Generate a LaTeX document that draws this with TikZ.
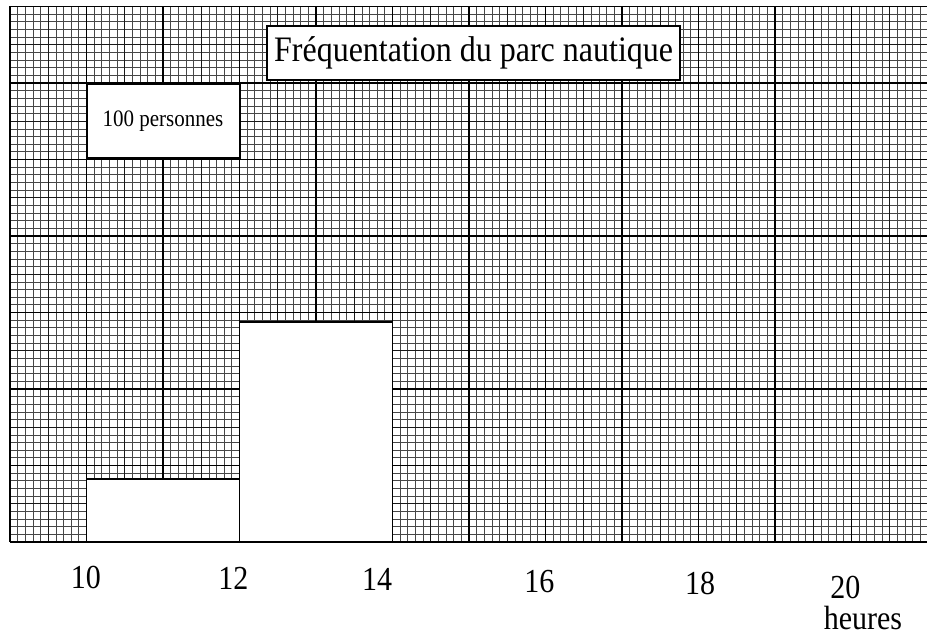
\documentclass[tikz,border=0pt]{standalone}
\usepackage{fontspec}
\setmainfont{Liberation Serif}

\newcommand{\tallText}[1]{\scalebox{1}[1.12]{#1}}

\tikzset{
    minorline/.style={black!72, line width=0.75pt},
    mediumline/.style={black!90, line width=1.2pt},
    majorline/.style={black, line width=1.9pt},
    axisline/.style={black, line width=2.8pt},
    whitebar/.style={draw=black, fill=white, line width=1.9pt},
    titlebox/.style={draw=black, fill=white, line width=1.7pt, inner sep=0pt,
        minimum width=413pt, minimum height=54pt, font=\fontsize{32}{36}\selectfont},
    legendbox/.style={draw=black, fill=white, line width=2pt, inner sep=0pt,
        minimum width=153pt, minimum height=74pt, font=\fontsize{21}{24}\selectfont},
    hourlabel/.style={inner sep=0pt, font=\fontsize{30}{34}\selectfont}
}

\begin{document}
\begin{tikzpicture}[x=76.5pt, y=76.5pt]
        \useasboundingbox (-0.131,-1.268) rectangle (11.987,7.085);
        \clip (-0.131,-1.268) rectangle (11.987,7.085);

        % papier millimetre
        \foreach \i in {0,...,120} {
            \draw[minorline] (\i/10,0) -- (\i/10,7);
        }
        \foreach \j in {0,...,70} {
            \draw[minorline] (0,\j/10) -- (12,\j/10);
        }
        \foreach \i in {0,...,24} {
            \draw[mediumline] (\i/2,0) -- (\i/2,7);
        }
        \foreach \j in {0,...,14} {
            \draw[mediumline] (0,\j/2) -- (12,\j/2);
        }
        \foreach \i in {0,...,12} {
            \draw[majorline] (\i,0) -- (\i,7);
        }
        \foreach \j in {0,...,7} {
            \draw[majorline] (0,\j) -- (12,\j);
        }

        % histogramme
        \draw[whitebar] (1,0) rectangle (3,0.82);
        \draw[whitebar] (3,0) rectangle (5,2.87);
        \draw[axisline] (0,0) -- (12,0);
        \draw[majorline] (0,0) -- (0,7);

        \node[titlebox] (title) at (6.06,6.395) {\tallText{Fréquentation du parc nautique}};
        \node[legendbox] (legend) at (2,5.5) {\tallText{100 personnes}\hspace{14pt}};

        \node[hourlabel] (h10) at (0.99,-0.46) {\tallText{10}};
        \node[hourlabel] (h12) at (2.92,-0.47) {\tallText{12}};
        \node[hourlabel] (h14) at (4.80,-0.49) {\tallText{14}};
        \node[hourlabel] (h16) at (6.92,-0.52) {\tallText{16}};
        \node[hourlabel] (h18) at (9.02,-0.54) {\tallText{18}};
        \node[hourlabel] (h20) at (10.92,-0.59) {\tallText{20}};
        \node[hourlabel] (heures) at (11.15,-1.0) {\tallText{heures}};
    \end{tikzpicture}
\end{document}
